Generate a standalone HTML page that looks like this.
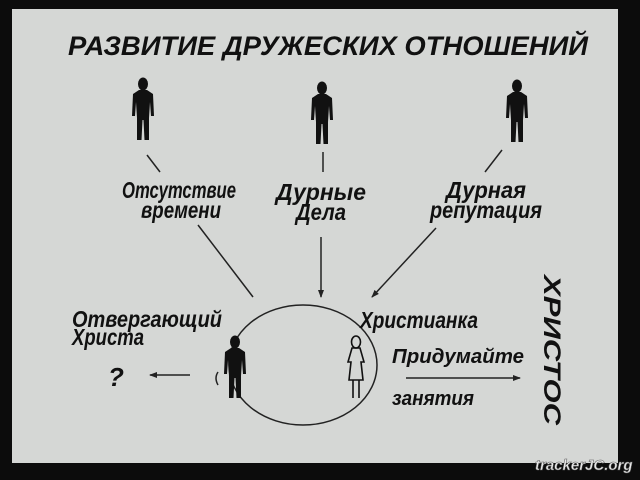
<!DOCTYPE html>
<html><head><meta charset="utf-8"><style>
html,body{margin:0;padding:0;background:#0c0c0c;width:640px;height:480px;overflow:hidden}
svg{display:block}
text{font-family:"Liberation Sans",sans-serif;font-weight:bold;font-style:italic;fill:#111}
</style></head><body>
<svg width="640" height="480" viewBox="0 0 640 480">
<defs>
<g id="man">
<ellipse cx="0" cy="6" rx="5" ry="6.5" fill="#111"/>
<path d="M-4,12 L4,12 L10,16 L11,38 L8,38 L7,24 L6,40 L6,62 L1.5,62 L0.5,42 L-0.5,42 L-1.5,62 L-6,62 L-6,40 L-7,24 L-8,38 L-11,38 L-10,16 Z" fill="#111"/>
</g>
<marker id="ah" markerWidth="8" markerHeight="8" refX="7" refY="4" orient="auto" markerUnits="userSpaceOnUse"><path d="M0,1 L8,4 L0,7 Z" fill="#222"/></marker>
</defs>
<rect x="12" y="9" width="606" height="454" fill="#d5d7d5"/>
<text x="68" y="55" font-size="27" textLength="520" lengthAdjust="spacingAndGlyphs">РАЗВИТИЕ ДРУЖЕСКИХ ОТНОШЕНИЙ</text>
<use href="#man" transform="translate(143 78)"/>
<use href="#man" transform="translate(322 82)"/>
<use href="#man" transform="translate(517 80)"/>
<g stroke="#222" stroke-width="1.5" fill="none">
<line x1="147" y1="155" x2="160" y2="172"/>
<line x1="323" y1="152" x2="323" y2="172"/>
<line x1="502" y1="150" x2="485" y2="172"/>
<line x1="198" y1="225" x2="253" y2="297"/>
<line x1="321" y1="237" x2="321" y2="297" marker-end="url(#ah)"/>
<line x1="436" y1="228" x2="372" y2="297" marker-end="url(#ah)"/>
<ellipse cx="303" cy="365" rx="74" ry="60"/>
<line x1="190" y1="375" x2="150" y2="375" marker-end="url(#ah)"/>
<line x1="406" y1="378" x2="520" y2="378" marker-end="url(#ah)"/>
<path d="M218,372 Q214,378 218,385"/>
</g>
<g font-size="23">
<text x="122" y="198" textLength="114" lengthAdjust="spacingAndGlyphs">Отсутствие</text>
<text x="141" y="218" textLength="80" lengthAdjust="spacingAndGlyphs">времени</text>
<text x="276" y="200" textLength="90" lengthAdjust="spacingAndGlyphs">Дурные</text>
<text x="296" y="220" textLength="50" lengthAdjust="spacingAndGlyphs">Дела</text>
<text x="446" y="198" textLength="80" lengthAdjust="spacingAndGlyphs">Дурная</text>
<text x="430" y="218" textLength="112" lengthAdjust="spacingAndGlyphs">репутация</text>
<text x="72" y="327" textLength="150" lengthAdjust="spacingAndGlyphs">Отвергающий</text>
<text x="72" y="345" textLength="72" lengthAdjust="spacingAndGlyphs">Христа</text>
<text x="360" y="328" textLength="118" lengthAdjust="spacingAndGlyphs">Христианка</text>
<text x="108" y="386" font-size="26">?</text>
</g>
<g font-size="20">
<text x="392" y="363" textLength="132" lengthAdjust="spacingAndGlyphs">Придумайте</text>
<text x="392" y="405" textLength="82" lengthAdjust="spacingAndGlyphs">занятия</text>
</g>
<text x="0" y="0" font-size="24" transform="translate(544 275) rotate(90)" textLength="150" lengthAdjust="spacingAndGlyphs" font-style="normal">ХРИСТОС</text>
<use href="#man" transform="translate(235 336)"/>
<g transform="translate(356 336)" fill="none" stroke="#111" stroke-width="1.6">
<ellipse cx="0" cy="6" rx="4.5" ry="6"/>
<path d="M-4,12 L4,12 L8,26 L5,26 L7,44 L-7,44 L-5,26 L-8,26 Z"/>
<path d="M-3,44 L-3,62 M3,44 L3,62"/>
</g>
<text x="535" y="470" font-size="15" font-style="normal" style="fill:#e8e8e8" stroke="#555" stroke-width="0.5">trackerJC.org</text>
</svg>
</body></html>
